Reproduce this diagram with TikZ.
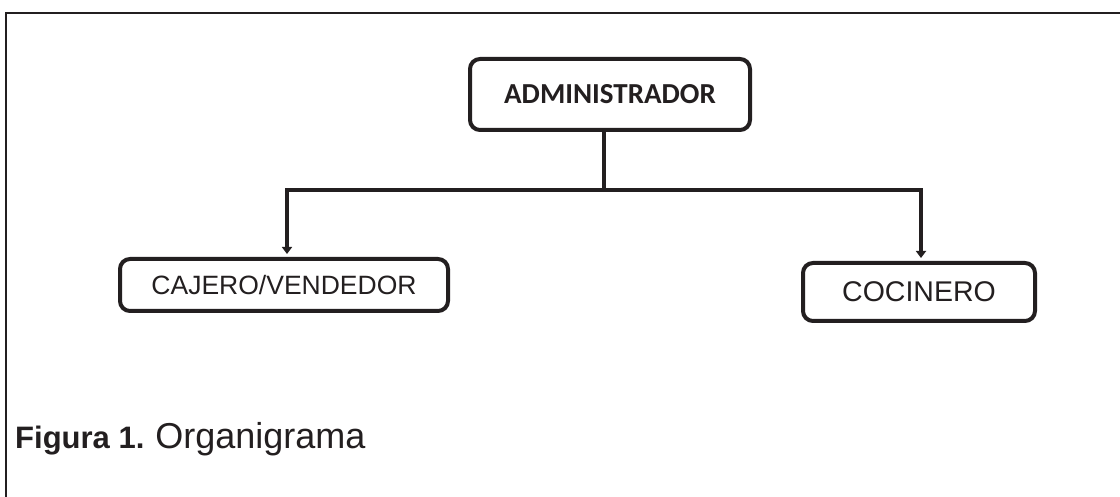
\documentclass[tikz,border=0pt]{standalone}
\usepackage{fontspec}
\setmainfont{Liberation Sans}
\newfontfamily\carlito{Carlito}
\usetikzlibrary{arrows.meta}
\definecolor{ink}{HTML}{231F20}
\tikzset{
  orgbox/.style={draw=ink, line width=4pt, rounded corners=10pt, fill=white, text=ink, inner sep=0pt},
  conn/.style={draw=ink, line width=4pt, line join=miter},
  tip/.style={-{Triangle[length=7pt,width=10pt]}, shorten >=3pt},
}
\begin{document}
\begin{tikzpicture}[x=1pt,y=-1pt]
\useasboundingbox (0,0) rectangle (1120,497);
\fill[white] (0,0) rectangle (1120,497);
\draw[ink, line width=2.2pt] (6,497) -- (6,13) -- (1120,13);
\node[orgbox, minimum width=280pt, minimum height=71pt, font=\carlito\bfseries\fontsize{29}{34}\selectfont] (admin) at (610,94.5) {ADMINISTRADOR};
\node[orgbox, minimum width=328pt, minimum height=52pt, font=\fontsize{26.5}{31}\selectfont] (cajero) at (284,285) {\raisebox{-4pt}{CAJERO/VENDEDOR}};
\node[orgbox, minimum width=232pt, minimum height=58pt, font=\fontsize{28.5}{33}\selectfont] (cocinero) at (919,292) {\raisebox{-1.5pt}{COCINERO}};
\coordinate (junction) at (604,190);
\draw[conn] (junction |- admin.south) -- (junction);
\draw[conn, tip] (junction) -| ([xshift=3pt]cajero.north);
\draw[conn, tip] (junction) -| ([xshift=2pt]cocinero.north);
\node[anchor=base west, text=ink, inner sep=0pt, font=\fontsize{36}{40}\selectfont] (caption) at (15,448) {{\bfseries\fontsize{31}{38}\selectfont Figura 1.}\hspace{11pt}Organigrama};
\end{tikzpicture}
\end{document}
